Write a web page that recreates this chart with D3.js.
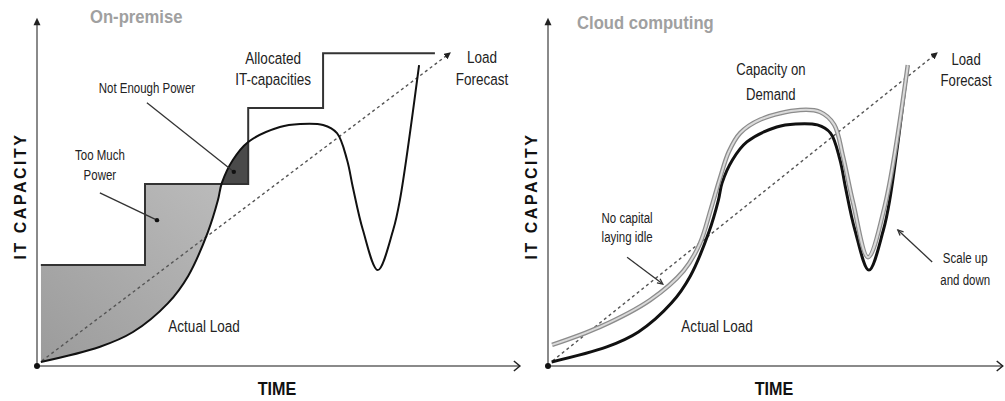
<!DOCTYPE html>
<html>
<head>
<meta charset="utf-8">
<script src="https://cdn.jsdelivr.net/npm/d3@7"></script>
<style>
  body { margin: 0; background: #fff; }
  svg { display: block; }
  text { font-family: "Liberation Sans", Arial, sans-serif; fill: #222; }
  .bold { font-weight: bold; }
</style>
</head>
<body>
<svg id="chart" width="1005" height="401"></svg>
<script>
(function() {
  // time / capacity in arbitrary units (0-100)
  const loadTime  = [0.8, 13, 20, 27.3, 31.5, 35.6, 37.7, 38.5, 40.8, 44, 50.6, 54.8, 59.6, 62.5, 64.6, 65.8, 67.9, 71, 74.2, 75.6, 79.6];
  const loadValue = [1.2, 5.6, 10, 18.5, 26.5, 39.4, 48.8, 53.8, 60.6, 65.9, 70.3, 71.2, 70.9, 68.5, 60.6, 52.6, 40, 28.2, 40, 48.8, 88.5];

  const allocTime  = [0.8, 22.5, 44, 59.6, 82.9];
  const allocValue = [29.7, 53.5, 75.9, 92, 92];

  const capTime  = [0.9, 11.5, 22.6, 30, 33.6, 36, 38, 40, 42.5, 47, 55.8, 60.2, 63.3, 65.2, 67.5, 70.8, 74.5, 79.6];
  const capValue = [6.2, 11.5, 19.4, 28, 36, 46, 55, 63, 68.5, 72.5, 75.3, 74.7, 71, 62, 48, 32, 47, 88.5];

  const forecastTime  = [1, 86];
  const forecastValue = [1.5, 92];

  const panelTitles = ["On-premise", "Cloud computing"];
  const xAxisLabel = "TIME";
  const yAxisLabel = "IT CAPACITY";

  const load = loadTime.map((t, i) => ({t: t, c: loadValue[i]}));
  const alloc = allocTime.map((t, i) => ({t: t, c: allocValue[i]}));
  const cap = capTime.map((t, i) => ({t: t, c: capValue[i]}));
  const forecast = forecastTime.map((t, i) => ({t: t, c: forecastValue[i]}));

  const smoothCurve = d3.curveCatmullRom.alpha(0.5);

  const svg = d3.select('#chart');
  const defs = svg.append('defs');

  defs.append('marker')
      .attr('id', 'dashHead')
      .attr('viewBox', '0 0 10 10')
      .attr('refX', 8).attr('refY', 5)
      .attr('markerWidth', 5).attr('markerHeight', 5)
      .attr('markerUnits', 'strokeWidth')
      .attr('orient', 'auto')
    .append('path')
      .attr('d', 'M0,0 L10,5 L0,10 Z')
      .attr('fill', '#222');

  const grad = defs.append('linearGradient')
      .attr('id', 'tooMuch')
      .attr('x1', '0%').attr('y1', '100%')
      .attr('x2', '100%').attr('y2', '0%');
  grad.append('stop').attr('offset', '0%').attr('stop-color', '#9b9b9b');
  grad.append('stop').attr('offset', '100%').attr('stop-color', '#bdbdbd');

  function makeScales(x0, x1) {
    return {
      x: d3.scaleLinear().domain([0, 100]).range([x0, x1]),
      y: d3.scaleLinear().domain([0, 100]).range([366, 26])
    };
  }

  function drawAxes(g, x, y) {
    g.append('line')
        .attr('x1', x(0)).attr('y1', y(0))
        .attr('x2', x(0)).attr('y2', y(101.5))
        .attr('stroke', '#8a8a8a').attr('stroke-width', 2);
    g.append('path')
        .attr('d', `M${x(0) - 3.5},${y(100.2)} L${x(0)},${y(102.4)} L${x(0) + 3.5},${y(100.2)} Z`)
        .attr('fill', '#222');
    g.append('line')
        .attr('x1', x(0)).attr('y1', y(0))
        .attr('x2', x(100.6)).attr('y2', y(0))
        .attr('stroke', '#8a8a8a').attr('stroke-width', 2);
    g.append('path')
        .attr('d', `M${x(100.6) - 6},${y(0) - 5} L${x(100.6)},${y(0)} L${x(100.6) - 6},${y(0) + 5}`)
        .attr('fill', 'none').attr('stroke', '#222').attr('stroke-width', 1.5);
    g.append('circle')
        .attr('cx', x(0)).attr('cy', y(0)).attr('r', 3)
        .attr('fill', '#111');
  }

  function drawForecast(g, line) {
    g.append('path')
        .datum(forecast)
        .attr('d', line)
        .attr('fill', 'none')
        .attr('stroke', '#555')
        .attr('stroke-width', 1.4)
        .attr('stroke-dasharray', '3,3')
        .attr('marker-end', 'url(#dashHead)');
  }

  // narrow labels: Arial metrics squeezed like Arial Narrow
  function addText(g, lines, x, y, size, dy) {
    const t = g.append('text')
        .attr('transform', `translate(${x},${y}) scale(0.82,1)`)
        .attr('text-anchor', 'middle')
        .style('font-size', size + 'px');
    lines.forEach((s, i) => {
      t.append('tspan').attr('x', 0).attr('y', i * dy).text(s);
    });
    return t;
  }

  function leader(g, x1, y1, x2, y2, dot) {
    g.append('line')
        .attr('x1', x1).attr('y1', y1).attr('x2', x2).attr('y2', y2)
        .attr('stroke', '#333').attr('stroke-width', 1.3);
    if (dot) {
      g.append('circle').attr('cx', x2).attr('cy', y2).attr('r', 2.2).attr('fill', '#111');
    } else {
      const a = Math.atan2(y2 - y1, x2 - x1);
      const len = 6;
      g.append('path')
          .attr('d', `M${x2 - len * Math.cos(a - 0.45)},${y2 - len * Math.sin(a - 0.45)} L${x2},${y2} L${x2 - len * Math.cos(a + 0.45)},${y2 - len * Math.sin(a + 0.45)}`)
          .attr('fill', 'none').attr('stroke', '#333').attr('stroke-width', 1.3);
    }
  }

  function axisTitles(g, x, y, title, titleDx, titleY) {
    g.append('text')
        .attr('class', 'bold')
        .attr('transform', `translate(${x(0) + titleDx},${titleY}) scale(0.9,1)`)
        .style('font-size', '18.5px')
        .style('fill', '#a0a0a0')
        .text(title);
    g.append('text')
        .attr('class', 'bold')
        .attr('transform', `translate(${x(50)},395) scale(0.85,1)`)
        .attr('text-anchor', 'middle')
        .style('font-size', '19px')
        .style('fill', '#111')
        .text(xAxisLabel);
    g.append('text')
        .attr('class', 'bold')
        .attr('transform', `translate(${x(0) - 11},${y(50)}) rotate(-90)`)
        .attr('text-anchor', 'middle')
        .style('font-size', '16px')
        .style('letter-spacing', '2.5px')
        .style('fill', '#111')
        .text(yAxisLabel);
  }

  // ---------- left panel: on-premise ----------
  {
    const {x, y} = makeScales(37, 517);
    const g = svg.append('g');
    const line = d3.line().x(d => x(d.t)).y(d => y(d.c));
    const loadLine = d3.line().x(d => x(d.t)).y(d => y(d.c)).curve(smoothCurve);

    // clip regions above / below the actual load
    defs.append('clipPath').attr('id', 'aboveLoad')
      .append('path')
        .datum(load)
        .attr('d', d3.area().x(d => x(d.t)).y0(d => y(d.c)).y1(y(110)).curve(smoothCurve));
    defs.append('clipPath').attr('id', 'belowLoad')
      .append('path')
        .datum(load)
        .attr('d', d3.area().x(d => x(d.t)).y0(y(0)).y1(d => y(d.c)).curve(smoothCurve));

    // too much power: allocation above load, first two steps
    const early = alloc.slice(0, 2).concat([{t: alloc[2].t, c: alloc[1].c}]);
    g.append('path')
        .datum(early)
        .attr('d', d3.area().x(d => x(d.t)).y0(y(0)).y1(d => y(d.c)).curve(d3.curveStepAfter))
        .attr('clip-path', 'url(#aboveLoad)')
        .attr('fill', 'url(#tooMuch)');

    // not enough power: load above second step, before next step
    g.append('path')
        .datum([{t: alloc[1].t, c: alloc[1].c}, {t: alloc[2].t, c: alloc[1].c}])
        .attr('d', d3.area().x(d => x(d.t)).y0(d => y(d.c)).y1(y(100)))
        .attr('clip-path', 'url(#belowLoad)')
        .attr('fill', '#4a4a4a');

    g.append('path')
        .datum(alloc)
        .attr('d', d3.line().x(d => x(d.t)).y(d => y(d.c)).curve(d3.curveStepAfter))
        .attr('fill', 'none')
        .attr('stroke', '#333')
        .attr('stroke-width', 2);

    drawForecast(g, line);

    g.append('path')
        .datum(load)
        .attr('d', loadLine)
        .attr('fill', 'none')
        .attr('stroke', '#111')
        .attr('stroke-width', 2);

    drawAxes(g, x, y);
    axisTitles(g, x, y, panelTitles[0], 53, 23);

    addText(g, ['Allocated', 'IT-capacities'], x(49.2), y(88.8), 16.5, 21);
    addText(g, ['Load', 'Forecast'], x(92.7), y(89.1), 16.5, 22);
    addText(g, ['Not Enough Power'], x(22.9), y(80.3), 14, 0);
    addText(g, ['Too Much', 'Power'], x(13.1), y(60.6), 14, 20);
    addText(g, ['Actual Load'], x(34.8), y(10), 16.5, 0);

    leader(g, x(22.9), y(77.4), x(41), y(57.1), true);
    leader(g, x(13.1), y(50.9), x(25), y(42.9), true);
  }

  // ---------- right panel: cloud computing ----------
  {
    const {x, y} = makeScales(548, 1000);
    const g = svg.append('g');
    const line = d3.line().x(d => x(d.t)).y(d => y(d.c));
    const smooth = d3.line().x(d => x(d.t)).y(d => y(d.c)).curve(smoothCurve);

    drawForecast(g, line);

    g.append('path')
        .datum(load)
        .attr('d', smooth)
        .attr('fill', 'none')
        .attr('stroke', '#111')
        .attr('stroke-width', 3);

    g.append('path')
        .datum(cap)
        .attr('d', smooth)
        .attr('fill', 'none')
        .attr('stroke', '#8c8c8c')
        .attr('stroke-width', 4.5);
    g.append('path')
        .datum(cap)
        .attr('d', smooth)
        .attr('fill', 'none')
        .attr('stroke', '#dadada')
        .attr('stroke-width', 2);

    drawAxes(g, x, y);
    axisTitles(g, x, y, panelTitles[1], 29, 29);

    addText(g, ['Capacity on', 'Demand'], x(49.3), y(85.6), 16, 25);
    addText(g, ['Load', 'Forecast'], x(92.5), y(88.5), 16, 21);
    addText(g, ['No capital', 'laying idle'], x(17.5), y(42), 14, 19);
    addText(g, ['Scale up', 'and down'], x(92.3), y(30.3), 14, 22);
    addText(g, ['Actual Load'], x(37.4), y(10), 16.5, 0);

    leader(g, x(17.5), y(32), x(25.4), y(24.1), false);
    leader(g, x(85), y(30.6), x(77.4), y(40), false);
  }
})();
</script>
</body>
</html>
